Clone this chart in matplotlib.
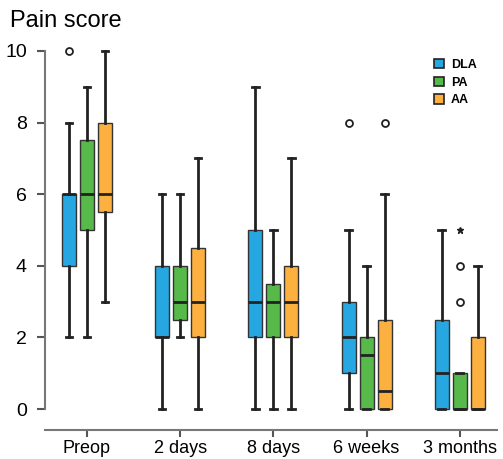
import matplotlib.pyplot as plt
from matplotlib.patches import Patch

plt.rcParams['font.family'] = ['Liberation Sans', 'DejaVu Sans']

timepoints = ['Preop', '2 days', '8 days', '6 weeks', '3 months']
groups = ['DLA', 'PA', 'AA']
colors = ['#27a7e1', '#56b949', '#fbb040']

# (whislo, q1, med, q3, whishi) per timepoint
dla = [(2, 4, 6, 6, 8), (0, 2, 2, 4, 6), (0, 2, 3, 5, 9), (0, 1, 2, 3, 5), (0, 0, 1, 2.5, 5)]
pa = [(2, 5, 6, 7.5, 9), (2, 2.5, 3, 4, 6), (0, 2, 3, 3.5, 5), (0, 0, 1.5, 2, 4), (0, 0, 0, 1, 1)]
aa = [(3, 5.5, 6, 8, 10), (0, 2, 3, 4.5, 7), (0, 2, 3, 4, 7), (0, 0, 0.5, 2.5, 6), (0, 0, 0, 2, 4)]

dla_out = [[10], [], [], [8], []]
pa_out = [[], [], [], [], [3, 4]]
aa_out = [[], [], [], [8], []]
pa_extreme = [[], [], [], [], [5]]

fig = plt.figure(figsize=(5.03, 4.59), dpi=100)
ax = fig.add_axes([45 / 503, 0.0932, 452 / 503, 0.8114])

offsets = [-0.193, 0.0, 0.193]
series = [dla, pa, aa]
outliers = [dla_out, pa_out, aa_out]
for data, outs, col, off in zip(series, outliers, colors, offsets):
    stats = []
    for (lo, q1, med, q3, hi), fl in zip(data, outs):
        stats.append(dict(whislo=lo, q1=q1, med=med, q3=q3, whishi=hi, fliers=fl))
    pos = [i + 1 + off for i in range(len(timepoints))]
    ax.bxp(stats, positions=pos, widths=0.15, patch_artist=True, manage_ticks=False,
           boxprops=dict(facecolor=col, edgecolor='#333333', linewidth=1.0),
           medianprops=dict(color='#222222', linewidth=2.0),
           whiskerprops=dict(color='#222222', linewidth=2.0),
           capprops=dict(color='#222222', linewidth=2.0),
           flierprops=dict(marker='o', markersize=5, markerfacecolor='white',
                           markeredgecolor='#222222', markeredgewidth=1.3),
           capwidths=0.07, zorder=3)

# extreme value marked with a star
for i, vals in enumerate(pa_extreme):
    for v in vals:
        ax.plot(i + 1 + offsets[1], v, marker='*', color='#222222',
                markersize=5, linestyle='none', zorder=4)

ax.set_xlim(0.55, 5.40)
ax.set_ylim(-0.2, 10.2)
ax.set_xticks(range(1, len(timepoints) + 1))
ax.set_xticklabels(timepoints)
ax.set_yticks([0, 2, 4, 6, 8, 10])
ax.tick_params(axis='y', labelsize=14, length=6, width=1.5, color='#555555', pad=7)
ax.tick_params(axis='x', labelsize=13, length=5, width=1.5, color='#555555', pad=2)

for s in ['top', 'right']:
    ax.spines[s].set_visible(False)
ax.spines['left'].set_bounds(0, 10)
ax.spines['left'].set_color('#777777')
ax.spines['left'].set_linewidth(1.5)
ax.spines['bottom'].set_position(('outward', 10))
ax.spines['bottom'].set_color('#777777')
ax.spines['bottom'].set_linewidth(1.5)

fig.text(10 / 503, 1 - 21 / 459, 'Pain score', fontsize=17, va='center', ha='left')

handles = [Patch(facecolor=c, edgecolor='#222222', linewidth=1.2, label=g)
           for c, g in zip(colors, groups)]
ax.legend(handles=handles, loc='upper left', bbox_to_anchor=(0.835, 0.99),
          frameon=False, handlelength=0.8, handleheight=0.8, handletextpad=0.6,
          labelspacing=0.45, prop=dict(size=9, weight='bold'))

fig.savefig('out.png', dpi=100)
